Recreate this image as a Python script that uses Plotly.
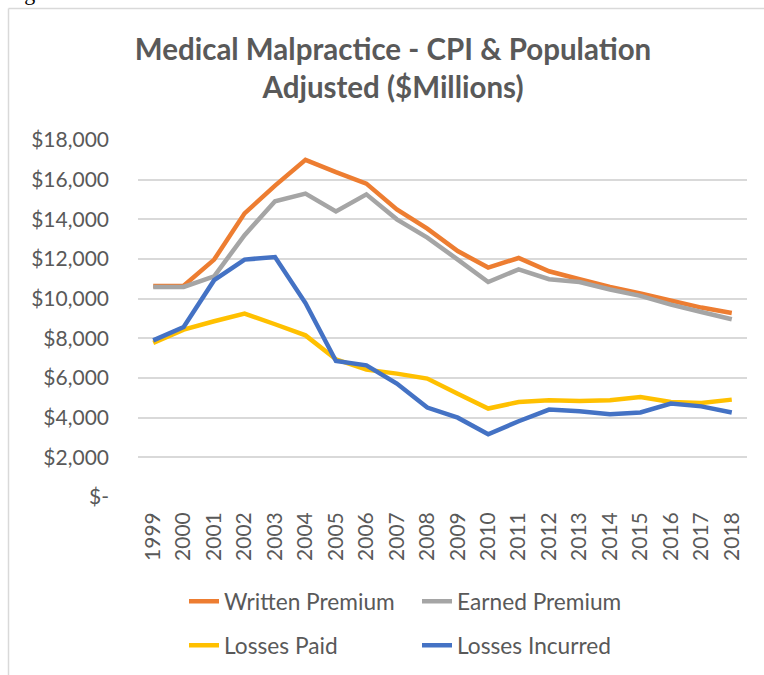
import plotly.graph_objects as go

years = [str(y) for y in range(1999, 2019)]
written_premium = [10640, 10650, 11970, 14300, 15700, 17000, 16380, 15800, 14500, 13530,
                   12400, 11570, 12050, 11380, 10980, 10590, 10260, 9920, 9550, 9280]
earned_premium = [10590, 10590, 11130, 13200, 14910, 15300, 14400, 15260, 14000, 13080,
                  11970, 10840, 11480, 10980, 10840, 10460, 10140, 9700, 9330, 8960]
losses_paid = [7770, 8440, 8860, 9250, 8710, 8150, 6940, 6420, 6220, 5970,
               5210, 4460, 4790, 4880, 4840, 4880, 5040, 4790, 4740, 4910]
losses_incurred = [7900, 8570, 10930, 11970, 12100, 9780, 6860, 6640, 5720, 4510,
                   4000, 3160, 3820, 4410, 4320, 4170, 4260, 4710, 4570, 4260]

y_tick_vals = [0, 2000, 4000, 6000, 8000, 10000, 12000, 14000, 16000, 18000]
y_tick_text = ["$-", "$2,000", "$4,000", "$6,000", "$8,000", "$10,000",
               "$12,000", "$14,000", "$16,000", "$18,000"]

series = [
    ("Written Premium", written_premium, "#ED7D31", "legend"),
    ("Earned Premium", earned_premium, "#A5A5A5", "legend"),
    ("Losses Paid", losses_paid, "#FFC000", "legend2"),
    ("Losses Incurred", losses_incurred, "#4472C4", "legend2"),
]

FONT = "Lato"
GRAY = "#595959"

fig = go.Figure()
for name, vals, color, leg in series:
    fig.add_trace(go.Scatter(
        x=years, y=vals, name=name, mode="lines",
        line=dict(color=color, width=4.5),
        legend=leg,
    ))

W, H = 764, 675
L, T, R, B = 138, 140, 17, 178
PW = W - L - R
PH = H - T - B

def px_x(sx):
    return (sx - L) / PW

def px_y(sy):
    return (H - B - sy) / PH

legend_common = dict(
    orientation="h", xanchor="left", yanchor="top",
    font=dict(family=FONT, size=22.7, color=GRAY),
    entrywidth=188, entrywidthmode="pixels",
    bgcolor="rgba(0,0,0,0)", traceorder="normal",
    maxheight=1,
)

fig.update_layout(
    width=W, height=H,
    margin=dict(l=L, r=R, t=T, b=B, autoexpand=False),
    paper_bgcolor="white", plot_bgcolor="white",
    font=dict(family=FONT, color=GRAY),
    title=dict(
        text="<b>Medical Malpractice - CPI & Population<br>Adjusted ($Millions)</b>",
        x=393 / W, xanchor="center", xref="container",
        y=1 - 60 / H, yanchor="top", yref="container",
        font=dict(family=FONT, size=29.5, color=GRAY),
    ),
    xaxis=dict(
        type="category", tickangle=-90, range=[-0.5, 19.5],
        tickfont=dict(family=FONT, size=21, color=GRAY),
        showgrid=False, showline=False, zeroline=False,
        ticks="", ticklabelstandoff=10,
    ),
    yaxis=dict(
        range=[0, 18000], tickvals=y_tick_vals, ticktext=y_tick_text,
        tickfont=dict(family=FONT, size=21, color=GRAY),
        showgrid=True, gridcolor="#D9D9D9", gridwidth=1.5,
        zeroline=False, showline=False, ticks="", ticklabelstandoff=28,
    ),
    legend=dict(x=px_x(184), y=px_y(580), **legend_common),
    legend2=dict(x=px_x(184), y=px_y(624), **legend_common),
    showlegend=True,
)

# chart border (left and top) and partially visible caption
fig.add_shape(type="line", xref="paper", yref="paper",
              x0=px_x(8.5), x1=px_x(764), y0=px_y(8.5), y1=px_y(8.5),
              line=dict(color="#D9D9D9", width=1.5))
fig.add_shape(type="line", xref="paper", yref="paper",
              x0=px_x(8.5), x1=px_x(8.5), y0=px_y(8.5), y1=px_y(675),
              line=dict(color="#D9D9D9", width=1.5))
fig.add_annotation(text="Figure 1.", xref="paper", yref="paper",
                   x=px_x(4), y=px_y(-7), xanchor="left", yanchor="middle",
                   showarrow=False,
                   font=dict(family="Liberation Serif", size=22, color="black"))

# remove the default 8px page margin so the figure sits at the window's top-left corner
fig.write_html("out.html", config={"displayModeBar": False},
               post_script="document.body.style.margin='0';")
